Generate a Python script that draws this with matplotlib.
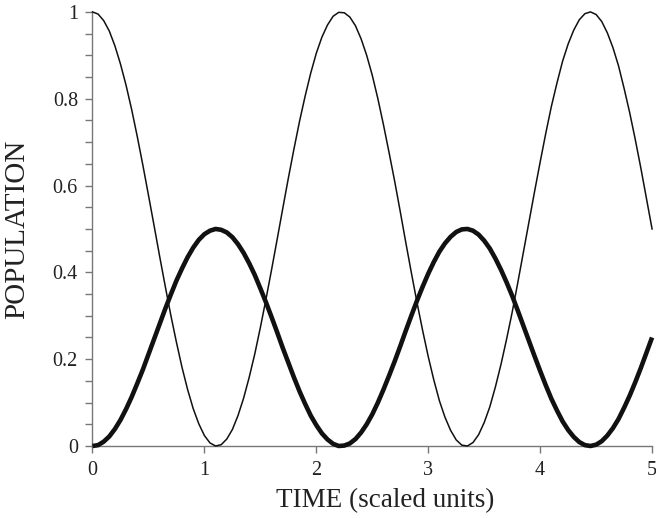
import numpy as np
import matplotlib
matplotlib.use("Agg")
import matplotlib.pyplot as plt
from matplotlib.ticker import MultipleLocator

# Populations sampled every 0.05 time units from t=0 to t=5
pop_thin = [1.000,0.995,0.980,0.956,0.922,0.880,0.831,0.775,0.713,0.647,0.578,0.508,0.437,0.368,0.301,0.239,
            0.181,0.130,0.086,0.051,0.024,0.007,0.000,0.003,0.016,0.038,0.070,0.110,0.158,0.212,0.273,0.338,
            0.406,0.476,0.547,0.617,0.684,0.748,0.806,0.859,0.905,0.942,0.970,0.990,0.999,0.998,0.988,0.968,
            0.938,0.900,0.854,0.800,0.740,0.676,0.610,0.540,0.468,0.398,0.330,0.266,0.206,0.152,0.104,0.066,
            0.036,0.014,0.002,0.000,0.008,0.026,0.054,0.090,0.136,0.188,0.246,0.308,0.376,0.446,0.516,0.586,
            0.654,0.720,0.782,0.836,0.886,0.926,0.958,0.982,0.996,1.000,0.994,0.978,0.952,0.918,0.876,0.824,
            0.768,0.706,0.640,0.570,0.500]
pop_thick = [0.000,0.002,0.010,0.022,0.039,0.060,0.085,0.113,0.144,0.176,0.211,0.246,0.281,0.316,0.349,0.381,
             0.409,0.435,0.457,0.475,0.488,0.496,0.500,0.498,0.492,0.481,0.465,0.445,0.421,0.394,0.363,0.331,
             0.297,0.262,0.226,0.192,0.158,0.126,0.097,0.070,0.048,0.029,0.015,0.005,0.000,0.001,0.006,0.016,
             0.031,0.050,0.073,0.100,0.130,0.162,0.195,0.230,0.266,0.301,0.335,0.367,0.397,0.424,0.448,0.467,
             0.482,0.493,0.499,0.500,0.496,0.487,0.473,0.455,0.432,0.406,0.377,0.346,0.312,0.277,0.242,0.207,
             0.173,0.140,0.109,0.082,0.057,0.037,0.021,0.009,0.002,0.000,0.003,0.011,0.024,0.041,0.062,0.088,
             0.116,0.147,0.180,0.215,0.250]
time = np.linspace(0, 5, len(pop_thin))

x_ticks = [0, 1, 2, 3, 4, 5]
x_ticklabels = ["0", "1", "2", "3", "4", "5"]
y_ticks = [0, 0.2, 0.4, 0.6, 0.8, 1]
y_ticklabels = ["0", "0.2", "0.4", "0.6", "0.8", "1"]

plt.rcParams["font.family"] = ["Liberation Serif", "DejaVu Serif"]

fig = plt.figure(figsize=(6.56, 5.18), dpi=100)
ax = fig.add_axes([0.141, 0.139, 0.853, 0.838])

ax.plot(time, pop_thin, color="#111111", lw=1.1, clip_on=False, zorder=3)
ax.plot(time, pop_thick, color="#111111", lw=3.3, clip_on=False, zorder=3,
        solid_capstyle="butt")

ax.set_xlim(0, 5)
ax.set_ylim(0, 1)
ax.set_xticks(x_ticks)
ax.set_xticklabels(x_ticklabels)
ax.set_yticks(y_ticks)
ax.set_yticklabels(y_ticklabels)
ax.yaxis.set_minor_locator(MultipleLocator(0.05))

for s in ["top", "right"]:
    ax.spines[s].set_visible(False)
for s in ["left", "bottom"]:
    ax.spines[s].set_color("#777777")
    ax.spines[s].set_linewidth(1.0)

ax.tick_params(axis="both", which="major", direction="out", length=5, width=1.0,
               color="#777777", labelsize=14.5, labelcolor="#222222", pad=5.5)
ax.tick_params(axis="y", which="minor", direction="out", length=5, width=1.0, color="#777777")

ax.set_xlabel("TIME (scaled units)", fontsize=19.5, color="#222222", labelpad=6)
ax.xaxis.label.set_x(0.523)
ax.set_ylabel("POPULATION", fontsize=21, color="#222222", labelpad=16)

fig.savefig("out.png", dpi=100)
